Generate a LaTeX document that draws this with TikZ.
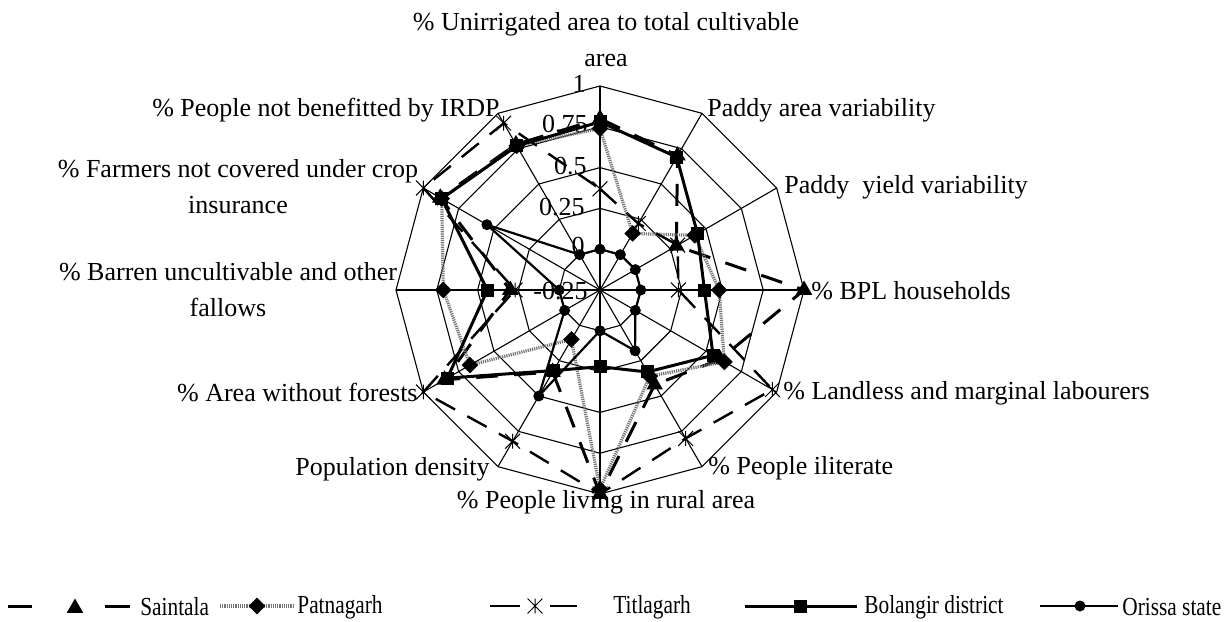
\documentclass[tikz,border=0pt]{standalone}
\usepackage{graphicx}
\usepackage{fontspec}
\setmainfont{Liberation Serif}
\usetikzlibrary{shapes.geometric}
\newcommand{\legtxt}[1]{\scalebox{0.82}[1]{#1}}
\begin{document}
\begin{tikzpicture}[x=0.5pt, y=0.5pt, font=\fontsize{13}{18}\selectfont,
	grid/.style={line width=0.55pt},
	axlab/.style={inner sep=0pt},
	ringlab/.style={inner sep=0pt, anchor=east},
	sai/.style={line width=1.5pt, dash pattern=on 11pt off 8pt},
	pat/.style={line width=1.6pt, draw=black!55, dash pattern=on 0.6pt off 0.5pt},
	tit/.style={line width=1.2pt, dash pattern=on 11pt off 7pt},
	bol/.style={line width=1.5pt},
	ori/.style={line width=1.1pt},
	trimark/.style={regular polygon, regular polygon sides=3, fill=black, inner sep=0pt, minimum size=9.5pt},
	diamark/.style={diamond, fill=black, inner sep=0pt, minimum size=8.5pt},
	sqmark/.style={rectangle, fill=black, inner sep=0pt, minimum size=6.5pt},
	dotmark/.style={circle, fill=black, inner sep=0pt, minimum size=5.5pt},
	astmark/.style={rectangle, inner sep=0pt, minimum size=7pt}]
\useasboundingbox (-600,-331) rectangle (624,290);
\coordinate (c) at (0,0);
% grid
\foreach \k in {0,...,11}
	\coordinate (o\k) at ({90-30*\k}:204);
\foreach \k in {0,...,11}
	\draw[grid] (c) -- (o\k);
\foreach \r in {40.8,81.6,122.4,163.2,204}
	\draw[grid] (90:\r) \foreach \k in {1,...,11} { -- ({90-30*\k}:\r) } -- cycle;
\node[ringlab] (r1) at (-14,206) [] {1};
\node[ringlab] (r2) at (-12,166) [] {0.75};
\node[ringlab] (r3) at (-13,124) [] {0.5};
\node[ringlab] (r4) at (-15,83) [] {0.25};
\node[ringlab] (r5) at (-15,44) [] {0};
\node[ringlab] (r6) at (-12,-1) [] {-0.25};
% axis labels
\node[axlab, align=center] (a0) at (6,250) [] {\% Unirrigated area to total cultivable\\area};
\node[axlab, anchor=west] (a1) at (107,180) [] {Paddy area variability};
\node[axlab, anchor=west] (a2) at (184,103) [] {Paddy\ \ yield variability};
\node[axlab, anchor=west] (a3) at (211,-1) [] {\% BPL households};
\node[axlab, anchor=west] (a4) at (183,-103) [] {\% Landless and marginal labourers};
\node[axlab, anchor=west] (a5) at (108,-178) [] {\% People iliterate};
\node[axlab] (a6) at (6,-212) [] {\% People living in rural area};
\node[axlab, anchor=east] (a7) at (-110,-179) [] {Population density};
\node[axlab, anchor=east] (a8) at (-182,-103) [] {\% Area without forests};
\node[axlab, align=center] (a9) at (-372,0) [] {\% Barren uncultivable and other\\fallows};
\node[axlab, align=center] (a10) at (-362,103) [] {\% Farmers not covered under crop\\insurance};
\node[axlab, anchor=east] (a11) at (-100,180) [] {\% People not benefitted by IRDP};
% Saintala
\foreach \v [count=\k from 0] in {0.8,0.7,0.29,1,0.6,0.42,1,0.33,0.85,0.3,0.88,0.78}
	\coordinate (sai\k) at ({90-30*\k}:{(\v+0.25)*163.2});
\draw[sai] (sai0) \foreach \k in {1,...,11} { -- (sai\k) } -- cycle;
\foreach \k in {0,...,11}
	\node[trimark] (saim\k) at (sai\k) [] {};
% Patnagarh
\foreach \v [count=\k from 0] in {0.74,0.15,0.42,0.48,0.63,0.36,0.97,0.1,0.67,0.71,0.87,0.77}
	\coordinate (pat\k) at ({90-30*\k}:{(\v+0.25)*163.2});
\draw[pat] (pat0) \foreach \k in {1,...,11} { -- (pat\k) } -- cycle;
\foreach \k in {0,...,11}
	\node[diamark] (patm\k) at (pat\k) [] {};
% Titlagarh
\foreach \v [count=\k from 0] in {0.37,0.22,0.3,0.23,0.97,0.8,1,0.82,1,0.27,1,0.93}
	\coordinate (tit\k) at ({90-30*\k}:{(\v+0.25)*163.2});
\draw[tit] (tit0) \foreach \k in {1,...,11} { -- (tit\k) } -- cycle;
\foreach \k in {0,...,11} {
	\node[astmark] (titm\k) at (tit\k) [] {};
	\draw[line width=0.5pt] (titm\k.north) -- (titm\k.south) (titm\k.north east) -- (titm\k.south west) (titm\k.north west) -- (titm\k.south east);
}
% Bolangir district
\foreach \v [count=\k from 0] in {0.78,0.69,0.44,0.39,0.55,0.33,0.22,0.32,0.83,0.44,0.87,0.77}
	\coordinate (bol\k) at ({90-30*\k}:{(\v+0.25)*163.2});
\draw[bol] (bol0) \foreach \k in {1,...,11} { -- (bol\k) } -- cycle;
\foreach \k in {0,...,11}
	\node[sqmark] (bolm\k) at (bol\k) [] {};
% Orissa state
\foreach \v [count=\k from 0] in {0,0,0,0,0,0.18,0,0.5,0,0,0.55,0}
	\coordinate (ori\k) at ({90-30*\k}:{(\v+0.25)*163.2});
\draw[ori] (ori0) \foreach \k in {1,...,11} { -- (ori\k) } -- cycle;
\foreach \k in {0,...,11}
	\node[dotmark] (orim\k) at (ori\k) [] {};
% legend
\coordinate (ls1) at (-592,-316); \coordinate (ls2) at (-568,-316);
\coordinate (ls3) at (-495,-316); \coordinate (ls4) at (-470,-316);
\draw[sai, solid] (ls1) -- (ls2) (ls3) -- (ls4);
\node[trimark] (lsm) at (-525,-318) [] {};
\node[axlab, anchor=west] (lst) at (-460,-317) [] {\legtxt{Saintala}};
\coordinate (lp1) at (-380,-316); \coordinate (lp2) at (-307,-316);
\draw[pat] (lp1) -- (lp2);
\node[diamark] (lpm) at (-343,-316) [] {};
\node[axlab, anchor=west] (lpt) at (-303,-317) [] {\legtxt{Patnagarh}};
\coordinate (lt1) at (-110,-316); \coordinate (lt2) at (-80,-316);
\coordinate (lt3) at (-50,-316); \coordinate (lt4) at (-23,-316);
\draw[tit, solid] (lt1) -- (lt2) (lt3) -- (lt4);
\node[astmark] (ltm) at (-65,-316) [] {};
\draw[line width=0.5pt] (ltm.north) -- (ltm.south) (ltm.north east) -- (ltm.south west) (ltm.north west) -- (ltm.south east);
\node[axlab, anchor=west] (ltt) at (13,-317) [] {\legtxt{Titlagarh}};
\coordinate (lb1) at (145,-316); \coordinate (lb2) at (257,-316);
\draw[bol] (lb1) -- (lb2);
\node[sqmark] (lbm) at (200,-316) [] {};
\node[axlab, anchor=west] (lbt) at (264,-317) [] {\legtxt{Bolangir district}};
\coordinate (lo1) at (440,-316); \coordinate (lo2) at (518,-316);
\draw[ori] (lo1) -- (lo2);
\node[dotmark] (lom) at (480,-316) [] {};
\node[axlab, anchor=west] (lot) at (522,-317) [] {\legtxt{Orissa state}};
\end{tikzpicture}
\end{document}
